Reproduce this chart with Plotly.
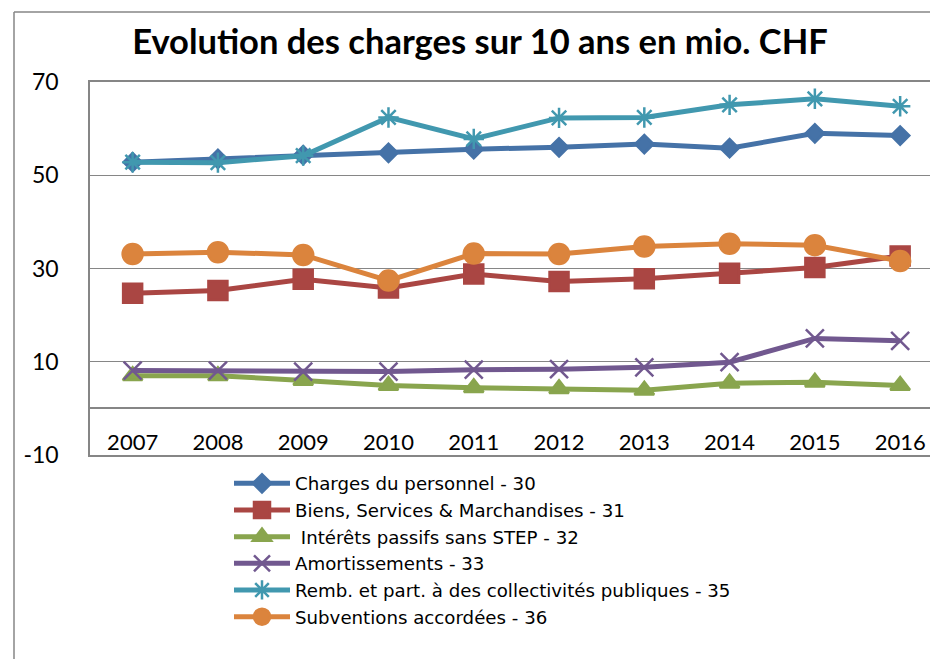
import plotly.graph_objects as go

years = ["2007", "2008", "2009", "2010", "2011", "2012", "2013", "2014", "2015", "2016"]

personnel = [52.8, 53.5, 54.3, 54.8, 55.6, 56.0, 56.7, 55.8, 59.0, 58.5]
biens = [24.7, 25.3, 27.7, 25.8, 28.8, 27.2, 27.8, 29.0, 30.2, 32.7]
interets = [7.0, 7.0, 6.0, 4.9, 4.4, 4.2, 3.9, 5.4, 5.6, 4.9]
amortissements = [8.1, 8.1, 7.9, 7.9, 8.3, 8.4, 8.8, 9.9, 15.0, 14.5]
remb = [52.8, 52.7, 54.2, 62.4, 57.8, 62.3, 62.4, 65.1, 66.4, 64.8]
subventions = [33.1, 33.5, 32.9, 27.4, 33.2, 33.1, 34.7, 35.3, 35.0, 31.6]

names = [
    "Charges du personnel - 30",
    "Biens, Services & Marchandises - 31",
    " Intérêts passifs sans STEP - 32",
    "Amortissements - 33",
    "Remb. et part. à des collectivités publiques - 35",
    "Subventions accordées - 36",
]
series = [personnel, biens, interets, amortissements, remb, subventions]
colors = ["#4572A7", "#AA4643", "#89A54E", "#71588F", "#4198AF", "#DB843D"]
symbols = ["diamond", "square", "triangle-up", "x-thin", "asterisk", "circle"]
sizes = [14, 19, 17, 18, 17, 20]

y_ticks = [-10, 10, 30, 50, 70]
y_ticktext = ["-10", "10", "30", "50", "70"]

FONT = "Lato"
LEGFONT = "DejaVu Sans"
GRID = "#868686"

fig = go.Figure()
for name, vals, col, sym, sz in zip(names, series, colors, symbols, sizes):
    fig.add_trace(go.Scatter(
        x=years, y=vals, name=name, mode="lines+markers",
        line=dict(color=col, width=5),
        marker=dict(symbol=sym, size=sz, color=col,
                    line=dict(color=col, width=2.5)),
    ))

W, H = 930, 659
# plot area in screen pixels
PL, PR, PT, PB = 90, 930, 82, 455
L, R, T, B = PL, W - PR, PT, H - PB
pw, ph = PR - PL, PB - PT

def px_x(x):
    return (x - PL) / pw

def px_y(y):
    return (PB - y) / ph

fig.update_layout(
    width=W, height=H,
    margin=dict(l=L, r=R, t=T, b=B, autoexpand=False),
    paper_bgcolor="white", plot_bgcolor="white",
    font=dict(family=FONT, color="#000000"),
    title=dict(text="<b>Evolution des charges sur 10 ans en mio. CHF</b>",
               x=px_x(480), xref="paper", xanchor="center",
               y=1 - 42 / H, yanchor="middle",
               font=dict(size=34.5, family=FONT, color="#000000")),
    showlegend=True,
    legend=dict(x=px_x(229), y=px_y(465), xanchor="left", yanchor="top",
                font=dict(size=18.2, family=LEGFONT, color="#000000"),
                bgcolor="rgba(0,0,0,0)", itemwidth=56),
    shapes=[
        dict(type="line", xref="paper", yref="paper",
             x0=px_x(14), x1=px_x(14), y0=px_y(700), y1=px_y(12),
             line=dict(color=GRID, width=1.5)),
        dict(type="line", xref="paper", yref="paper",
             x0=px_x(14), x1=px_x(960), y0=px_y(12), y1=px_y(12),
             line=dict(color=GRID, width=1.5)),
    ],
)

fig.update_xaxes(
    type="category", range=[-0.5, 9.35], automargin=False,
    showgrid=False, showline=True, linecolor=GRID, linewidth=1.5, mirror=True,
    ticks="", ticklabelposition="inside", ticklabelstandoff=2,
    ticklabeloverflow="allow",
    tickfont=dict(size=22, family=FONT, color="#000000"),
)
fig.update_yaxes(
    range=[-10, 70], tickvals=y_ticks, ticktext=y_ticktext, automargin=False,
    showgrid=True, gridcolor=GRID, gridwidth=1,
    showline=True, linecolor=GRID, linewidth=1.5,
    zeroline=True, zerolinecolor=GRID, zerolinewidth=1.5,
    ticks="", ticklabelstandoff=25,
    tickfont=dict(size=23, family=FONT, color="#000000"),
)

fig.write_html(
    "out.html",
    config={"displayModeBar": False},
    post_script="document.body.style.margin='0';document.body.style.overflow='hidden';",
)
